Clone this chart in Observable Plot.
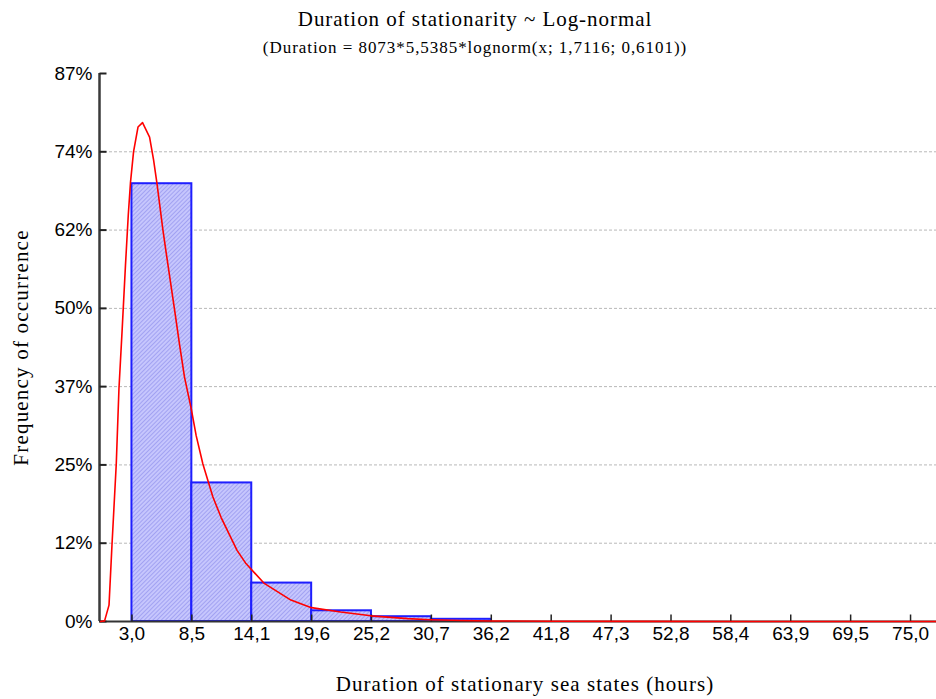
<!DOCTYPE html>
<html>
<head>
<meta charset="utf-8">
<script src="https://cdn.jsdelivr.net/npm/d3@7"></script>
<script src="https://cdn.jsdelivr.net/npm/@observablehq/plot@0.6"></script>
<style>
  html, body { margin: 0; padding: 0; background: #fff; }
  #chart svg { display: block; }
</style>
</head>
<body>
<div id="chart"></div>
<script>
// Histogram bins (hours) and observed frequency of occurrence (%)
const binStart = [3.0, 8.54, 14.08, 19.62, 25.15, 30.69];
const binEnd   = [8.54, 14.08, 19.62, 25.15, 30.69, 36.23];
const binFreq  = [69.5, 22.0, 6.1, 1.7, 0.76, 0.35];

// Fitted log-normal curve, expected frequency (%) against duration (hours)
const fitHours = [0.1, 0.47, 0.88, 1.15, 1.55, 1.8, 2.1, 2.4, 2.66, 2.87, 3.15, 3.56, 3.98, 4.63, 5.0, 5.31, 5.87, 6.17, 6.94, 7.4, 7.86, 8.48, 8.94, 9.56, 10.48, 11.25, 12.72, 13.5, 15.2, 17.7, 19.6, 22.3, 25.1, 28.5, 30.6, 33.5, 36.2, 41.8, 50, 60, 77.4];
const fitFreq  = [0, 0.1, 2.6, 12.0, 25.0, 37.0, 46.5, 56.5, 64.5, 69.8, 74.6, 78.5, 79.2, 76.9, 73.3, 69.6, 62.1, 58.5, 49.5, 44.0, 38.8, 33.8, 29.5, 25.0, 19.8, 16.5, 11.3, 9.3, 6.1, 3.4, 2.2, 1.5, 0.9, 0.45, 0.28, 0.15, 0.09, 0.04, 0.015, 0.005, 0];

// Axis ticks and their labels
const xTicks = [3.0, 8.54, 14.08, 19.62, 25.15, 30.69, 36.23, 41.77, 47.31, 52.85, 58.38, 63.92, 69.46, 75.0];
const xTickLabels = ["3,0", "8,5", "14,1", "19,6", "25,2", "30,7", "36,2", "41,8", "47,3", "52,8", "58,4", "63,9", "69,5", "75,0"];
const yTicks = [0, 12.43, 24.86, 37.29, 49.71, 62.14, 74.57, 87];
const yTickLabels = ["0%", "12%", "25%", "37%", "50%", "62%", "74%", "87%"];

const titleText = "Duration of stationarity ~ Log-normal";
const subtitleText = "(Duration = 8073*5,5385*lognorm(x; 1,7116; 0,6101))";
const xTitle = "Duration of stationary sea states (hours)";
const yTitle = "Frequency of occurrence";

const bins = binStart.map((s, i) => ({x1: s, x2: binEnd[i], y: binFreq[i]}));
const fit = fitHours.map((h, i) => ({h, f: fitFreq[i]}));

// Short inward tick marks drawn as custom symbols
const tickRight = {draw(ctx) { ctx.moveTo(0, 0); ctx.lineTo(7, 0); }};
const tickUp = {draw(ctx) { ctx.moveTo(0, 0); ctx.lineTo(0, -7); }};

const serif = "'Liberation Serif', 'Times New Roman', serif";
const sans = "'Liberation Sans', Arial, sans-serif";

const chart = Plot.plot({
  width: 936,
  height: 699,
  marginTop: 73,
  marginBottom: 78,
  marginLeft: 99,
  marginRight: 0,
  style: {background: "#fff", overflow: "visible"},
  x: {domain: [0, 77.4], axis: null},
  y: {domain: [0, 87], axis: null},
  marks: [
    // dashed horizontal gridlines
    Plot.ruleY(yTicks.slice(1, -1), {stroke: "#b8b8b8", strokeDasharray: "3,2", strokeWidth: 1}),
    // histogram bars
    Plot.rectY(bins, {x1: "x1", x2: "x2", y: "y", fill: "url(#hatch)", stroke: "#1e1eff", strokeWidth: 2}),
    // axis lines
    Plot.ruleX([0], {y1: 0, y2: 87, stroke: "#3a3a3a", strokeWidth: 2.5}),
    Plot.ruleY([0], {stroke: "#333", strokeWidth: 2}),
    // inward tick marks
    Plot.dot(yTicks, {y: d => d, frameAnchor: "left", symbol: tickRight, stroke: "#222", strokeWidth: 2, r: 3}),
    Plot.dot(xTicks, {x: d => d, frameAnchor: "bottom", symbol: tickUp, stroke: "#222", strokeWidth: 1.5, r: 3}),
    // fitted log-normal curve
    Plot.line(fit, {x: "h", y: "f", stroke: "#ff0000", strokeWidth: 1.6, curve: "linear"}),
    // tick labels
    Plot.text(yTicks, {y: d => d, text: (d, i) => yTickLabels[i], frameAnchor: "left", dx: -7, textAnchor: "end", fontSize: 19, fontFamily: sans, fill: "#000"}),
    Plot.text(xTicks, {x: d => d, text: (d, i) => xTickLabels[i], frameAnchor: "bottom", dy: 18, fontSize: 19, fontFamily: sans, fill: "#000"}),
    // titles
    Plot.text([titleText], {frameAnchor: "top", textAnchor: "middle", dx: -43, dy: -62, fontSize: 21, fontFamily: serif, fill: "#000"}),
    Plot.text([subtitleText], {frameAnchor: "top", textAnchor: "middle", dx: -43, dy: -33, fontSize: 17, fontFamily: serif, fill: "#000"}),
    Plot.text([xTitle], {frameAnchor: "bottom", textAnchor: "middle", dx: 7, dy: 69, fontSize: 21, fontFamily: serif, fill: "#000"}),
    Plot.text([yTitle], {frameAnchor: "left", textAnchor: "middle", dx: -78, rotate: -90, fontSize: 21, fontFamily: serif, fill: "#000"})
  ]
});

// Wider letter spacing for the serif titles
const spacing = new Map([[titleText, "0.95px"], [subtitleText, "0.95px"], [xTitle, "1.05px"], [yTitle, "1.2px"]]);
chart.querySelectorAll("text").forEach(t => {
  const s = spacing.get(t.textContent);
  if (s) t.setAttribute("letter-spacing", s);
});

// Fine diagonal hatching used to fill the bars
const ns = "http://www.w3.org/2000/svg";
const defs = document.createElementNS(ns, "defs");
const pattern = document.createElementNS(ns, "pattern");
pattern.setAttribute("id", "hatch");
pattern.setAttribute("patternUnits", "userSpaceOnUse");
pattern.setAttribute("width", "3");
pattern.setAttribute("height", "3");
pattern.setAttribute("patternTransform", "rotate(45)");
const bg = document.createElementNS(ns, "rect");
bg.setAttribute("width", "3");
bg.setAttribute("height", "3");
bg.setAttribute("fill", "#c6c6fd");
const ln = document.createElementNS(ns, "line");
ln.setAttribute("x1", "0.5"); ln.setAttribute("y1", "0");
ln.setAttribute("x2", "0.5"); ln.setAttribute("y2", "3");
ln.setAttribute("stroke", "#a2a2f2");
ln.setAttribute("stroke-width", "1");
pattern.appendChild(bg);
pattern.appendChild(ln);
defs.appendChild(pattern);
chart.insertBefore(defs, chart.firstChild);

document.getElementById("chart").appendChild(chart);
</script>
</body>
</html>
